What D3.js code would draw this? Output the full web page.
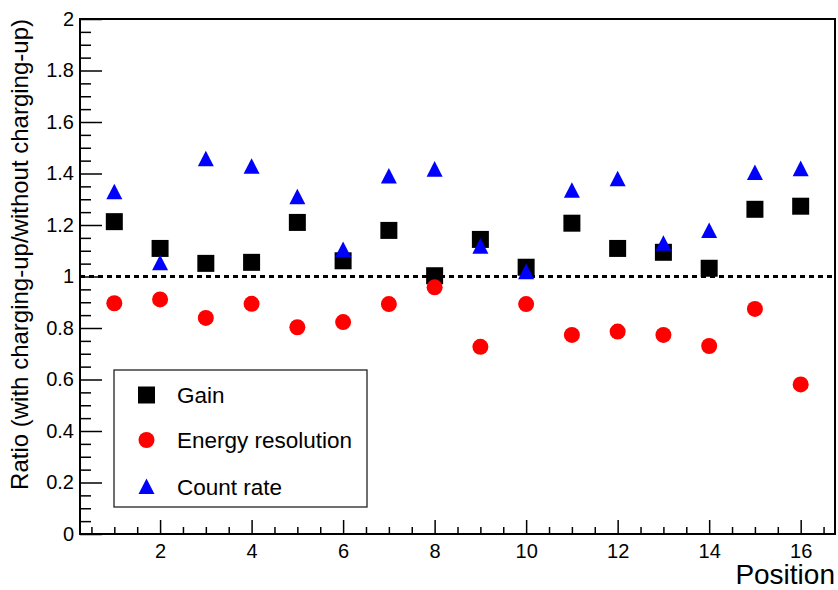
<!DOCTYPE html>
<html>
<head>
<meta charset="utf-8">
<script src="https://cdn.jsdelivr.net/npm/d3@7"></script>
<style>
  body { margin: 0; background: #fff; }
  svg text { font-family: 'Liberation Sans', Arial, sans-serif; }
</style>
</head>
<body>
<svg id="chart" width="838" height="590"></svg>
<script>
const positions = [1, 2, 3, 4, 5, 6, 7, 8, 9, 10, 11, 12, 13, 14, 15, 16]
const gain = [1.213, 1.109, 1.051, 1.055, 1.210, 1.061, 1.179, 1.003, 1.144, 1.036, 1.207, 1.109, 1.094, 1.032, 1.261, 1.273]
const energyResolution = [0.896, 0.911, 0.839, 0.894, 0.803, 0.823, 0.893, 0.958, 0.727, 0.893, 0.773, 0.786, 0.773, 0.730, 0.874, 0.581]
const countRate = [1.329, 1.053, 1.457, 1.428, 1.310, 1.105, 1.390, 1.417, 1.118, 1.019, 1.335, 1.380, 1.129, 1.179, 1.404, 1.419]
const xTicks = [2, 4, 6, 8, 10, 12, 14, 16]
const yTicks = [0, 0.2, 0.4, 0.6, 0.8, 1, 1.2, 1.4, 1.6, 1.8, 2]
const legendLabels = ['Gain', 'Energy resolution', 'Count rate']

const font = "'Liberation Sans', Arial, sans-serif"
const svg = d3.select('#chart')
const frame = {left: 80, right: 835, top: 19, bottom: 534}

const x = d3.scaleLinear().domain([0.25, 16.75]).range([frame.left, frame.right])
const y = d3.scaleLinear().domain([0, 2]).range([frame.bottom, frame.top])

// minor ticks first, majors on top
const xMinor = d3.range(0.5, 16.75, 0.5).filter(v => v % 2 !== 0)
const yMinor = d3.range(0, 2.001, 0.05).map(v => +v.toFixed(2)).filter(v => !yTicks.includes(v))

svg.append('g')
    .attr('transform', `translate(0,${frame.bottom})`)
    .call(d3.axisBottom(x).tickValues(xMinor).tickSize(-7).tickFormat(''))
    .call(g => g.select('.domain').remove())
    .selectAll('line').attr('stroke', '#000').attr('stroke-width', 1.5)

svg.append('g')
    .attr('transform', `translate(0,${frame.bottom})`)
    .call(d3.axisBottom(x).tickValues(xTicks).tickSize(-14).tickPadding(10).tickFormat(d3.format('d')))
    .attr('font-family', font)
    .attr('font-size', 20)
    .call(g => g.select('.domain').remove())
    .call(g => g.selectAll('line').attr('stroke', '#000').attr('stroke-width', 1.5))
    .call(g => g.selectAll('text').attr('fill', '#000'))

svg.append('g')
    .attr('transform', `translate(${frame.left},0)`)
    .call(d3.axisLeft(y).tickValues(yMinor).tickSize(-11).tickFormat(''))
    .call(g => g.select('.domain').remove())
    .selectAll('line').attr('stroke', '#000').attr('stroke-width', 1.5)

svg.append('g')
    .attr('transform', `translate(${frame.left},0)`)
    .call(d3.axisLeft(y).tickValues(yTicks).tickSize(-22).tickPadding(6).tickFormat(d3.format('')))
    .attr('font-family', font)
    .attr('font-size', 20)
    .call(g => g.select('.domain').remove())
    .call(g => g.selectAll('line').attr('stroke', '#000').attr('stroke-width', 1.5))
    .call(g => g.selectAll('text').attr('fill', '#000'))

svg.append('rect')
    .attr('x', frame.left)
    .attr('y', frame.top)
    .attr('width', frame.right - frame.left)
    .attr('height', frame.bottom - frame.top)
    .attr('fill', 'none')
    .attr('stroke', '#000')
    .attr('stroke-width', 2)

// reference line at ratio 1
svg.append('line')
    .attr('x1', frame.left)
    .attr('x2', frame.right)
    .attr('y1', y(1))
    .attr('y2', y(1))
    .attr('stroke', '#000')
    .attr('stroke-width', 3)
    .attr('stroke-dasharray', '5,4')

// axis titles
svg.append('text')
    .attr('x', frame.right)
    .attr('y', 584)
    .attr('text-anchor', 'end')
    .attr('font-size', 28)
    .text('Position')

svg.append('text')
    .attr('transform', `translate(28,${frame.top}) rotate(-90)`)
    .attr('text-anchor', 'end')
    .attr('font-size', 24)
    .text('Ratio (with charging-up/without charging-up)')

const square = d3.symbol().type(d3.symbolSquare).size(17 * 17)
const tri = s => `M0,${-s * 0.5}L${s * 0.5},${s * 0.47}L${-s * 0.5},${s * 0.47}Z`

const marks = svg.append('g')

marks.selectAll('path.gain')
  .data(positions)
  .join('path')
    .attr('class', 'gain')
    .attr('transform', (d, i) => `translate(${x(d)},${y(gain[i])})`)
    .attr('d', square)
    .attr('fill', '#000')

marks.selectAll('circle')
  .data(positions)
  .join('circle')
    .attr('cx', d => x(d))
    .attr('cy', (d, i) => y(energyResolution[i]))
    .attr('r', 8)
    .attr('fill', '#ff0000')

marks.selectAll('path.rate')
  .data(positions)
  .join('path')
    .attr('class', 'rate')
    .attr('transform', (d, i) => `translate(${x(d)},${y(countRate[i])})`)
    .attr('d', tri(16))
    .attr('fill', '#0000ff')

// legend
const legend = svg.append('g').attr('transform', 'translate(114,370)')

legend.append('rect')
    .attr('width', 253)
    .attr('height', 137)
    .attr('fill', '#fff')
    .attr('stroke', '#222')
    .attr('stroke-width', 1.3)

const rowY = [25, 70, 116.5]
const item = legend.selectAll('g.item')
  .data(legendLabels)
  .join('g')
    .attr('class', 'item')
    .attr('transform', (d, i) => `translate(0,${rowY[i]})`)

item.filter((d, i) => i === 0).append('path')
    .attr('transform', 'translate(32.5,0)')
    .attr('d', square)
    .attr('fill', '#000')
item.filter((d, i) => i === 1).append('circle')
    .attr('cx', 32.5)
    .attr('r', 8)
    .attr('fill', '#ff0000')
item.filter((d, i) => i === 2).append('path')
    .attr('transform', 'translate(32.5,0)')
    .attr('d', tri(16))
    .attr('fill', '#0000ff')

item.append('text')
    .attr('x', 63)
    .attr('dy', '0.36em')
    .attr('font-size', 22.5)
    .text(d => d)
</script>
</body>
</html>
